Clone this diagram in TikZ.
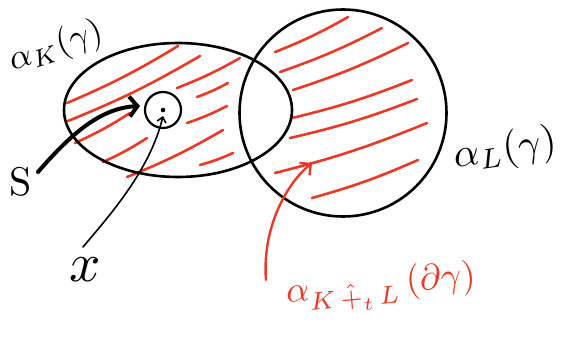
\documentclass[tikz,border=0pt]{standalone}
\usetikzlibrary{shapes.geometric,arrows.meta}
\definecolor{hatchred}{RGB}{232,58,38}
\begin{document}
\begin{tikzpicture}[x=1pt,y=-1pt,
  outline/.style={draw=black,line width=2.6pt},
  hatch/.style={draw=hatchred,line width=2.6pt,line cap=round},
  lbl/.style={inner sep=0pt},
  boldarrow/.style={draw=black,line width=4pt,line cap=round,
    -{Straight Barb[length=8pt,width=20pt,line width=4pt]}},
  thinarrow/.style={draw=black,line width=1.6pt,line cap=round,
    -{Straight Barb[length=5pt,width=9pt,line width=1.6pt]}},
  redarrow/.style={draw=hatchred,line width=2.4pt,line cap=round,
    -{Straight Barb[length=8pt,width=16pt,line width=2.4pt]}}]
\useasboundingbox (0,0) rectangle (561,337);

% hatching of the two regions
\foreach \ax/\ay/\bx/\by in {
  67/103/178/46, 68/121/200/56, 177/88/240/58, 197/97/228/83,
  75/143/130/113, 187/123/227/106, 103/162/147/138, 127/177/223/130,
  200/165/233/153,
  275/52/348/17, 280/72/382/28, 293/90/408/43, 292/118/412/80,
  290/138/417/99, 275/173/427/123, 312/198/418/160}
  \draw[hatch] (\ax,\ay) to[bend right=4] (\bx,\by);

% the two sets and the small ball round the point
\node[ellipse,outline,minimum width=228pt,minimum height=134pt,inner sep=0pt] (K) at (178,110) {};
\node[circle,outline,minimum size=207pt,inner sep=0pt] (L) at (343,113) {};
\node[circle,draw=black,line width=2.2pt,minimum size=36pt,inner sep=0pt] (ball) at (163,110) {};
\fill[black] (ball.center) circle (2.3);

% labels
\node[lbl,scale=3.5,rotate=18] (aK) at (56,47) {$\alpha_K(\gamma)$};
\node[lbl,scale=4,rotate=8] (aL) at (505,150) {$\alpha_L(\gamma)$};
\node[lbl,scale=3.6,text=hatchred,rotate=5] (aKL) at (381,288) {$\alpha_{K\,\hat{+}_t\,L}\,(\partial\gamma)$};
\node[inner sep=0pt,scale=4] (S) at (21,182) {S};
\node[inner sep=0pt,scale=5.5] (x) at (85,270) {$x$};

% connectors
\coordinate (sfrom) at (38,172);
\coordinate (sto) at (140,106);
\draw[boldarrow] (sfrom) .. controls (70,135) and (100,108) .. (sto);
\coordinate (xfrom) at (83,247);
\coordinate (xto) at (163,116);
\draw[thinarrow] (xfrom) .. controls (110,215) and (150,170) .. (xto);
\coordinate (rfrom) at (266,280);
\coordinate (rto) at (312,163);
\draw[redarrow] (rfrom) .. controls (262,230) and (285,185) .. (rto);
\end{tikzpicture}
\end{document}
